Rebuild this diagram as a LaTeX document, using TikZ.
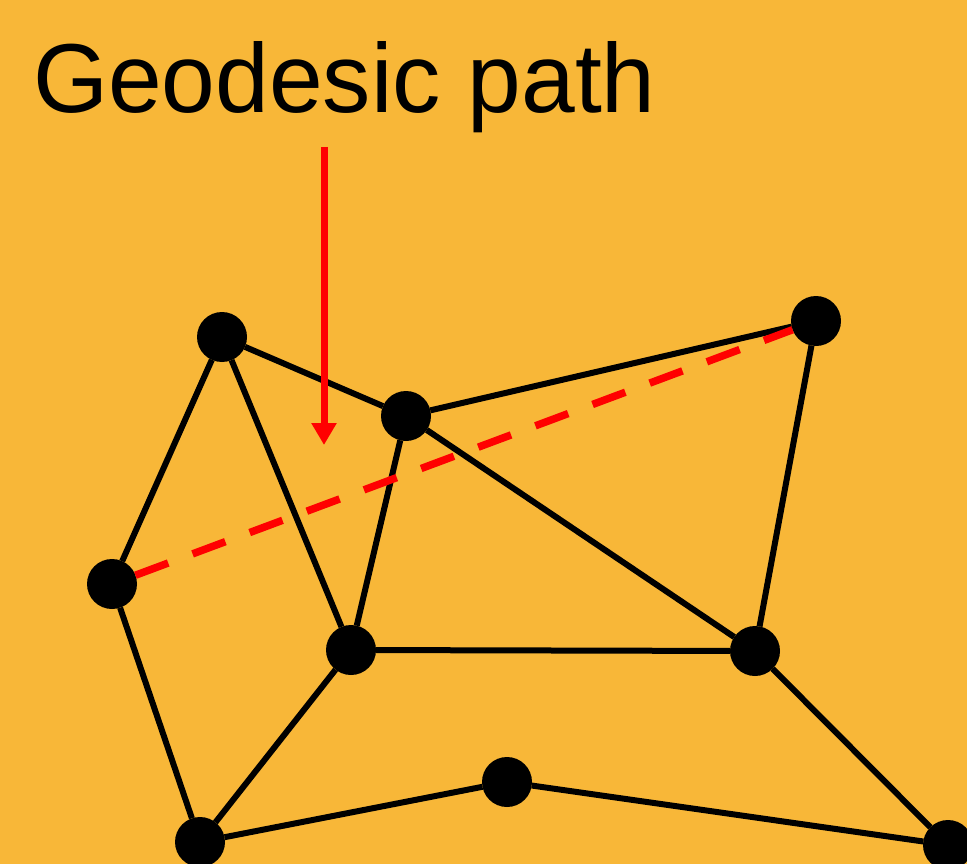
\documentclass[tikz,border=0pt]{standalone}
\usepackage{fontspec}
\setmainfont{Liberation Sans}
\usetikzlibrary{arrows.meta}
\definecolor{bgorange}{RGB}{248,183,56}
\definecolor{geored}{RGB}{255,0,0}
\tikzset{
  vtx/.style={circle,fill=black,draw=none,minimum size=50pt,inner sep=0pt,outer sep=0pt},
  edge/.style={draw=black,line width=6pt},
  geodesic/.style={draw=geored,line width=7.5pt,dash pattern=on 35pt off 26pt},
  pointer/.style={draw=geored,line width=7pt,-{Triangle[length=22pt,width=24pt]}}
}
\begin{document}
\begin{tikzpicture}[x=1pt,y=-1pt]
\fill[bgorange] (0,0) rectangle (967,864);
\useasboundingbox (0,0) rectangle (967,864);
\node[anchor=base west,inner sep=0pt,xscale=0.985,font=\fontsize{98}{110}\selectfont] (title) at (33,113) {Geodesic path};
\node[vtx] (A) at (222,337) {};
\node[vtx] (B) at (406,416) {};
\node[vtx] (C) at (816,321) {};
\node[vtx] (D) at (112,584) {};
\node[vtx] (E) at (351,650) {};
\node[vtx] (F) at (755,651) {};
\node[vtx] (G) at (507,782) {};
\node[vtx] (H) at (200,842) {};
\node[vtx] (I) at (948,845) {};
\coordinate (ptop) at (324,147);
\coordinate (ptip) at (324,445);
\draw[edge] (A) -- (B);
\draw[edge] (A) -- (D);
\draw[edge] (A) -- (E);
\draw[edge] (B) -- (C);
\draw[edge] (B) -- (E);
\draw[edge] (B) -- (F);
\draw[edge] (C) -- (F);
\draw[edge] (D) -- (H);
\draw[edge] (E) -- (F);
\draw[edge] (E) -- (H);
\draw[edge] (H) -- (G);
\draw[edge] (G) -- (I);
\draw[edge] (F) -- (I);
\draw[geodesic] (D) -- (C);
\draw[pointer] (ptop) -- (ptip);
\end{tikzpicture}
\end{document}
